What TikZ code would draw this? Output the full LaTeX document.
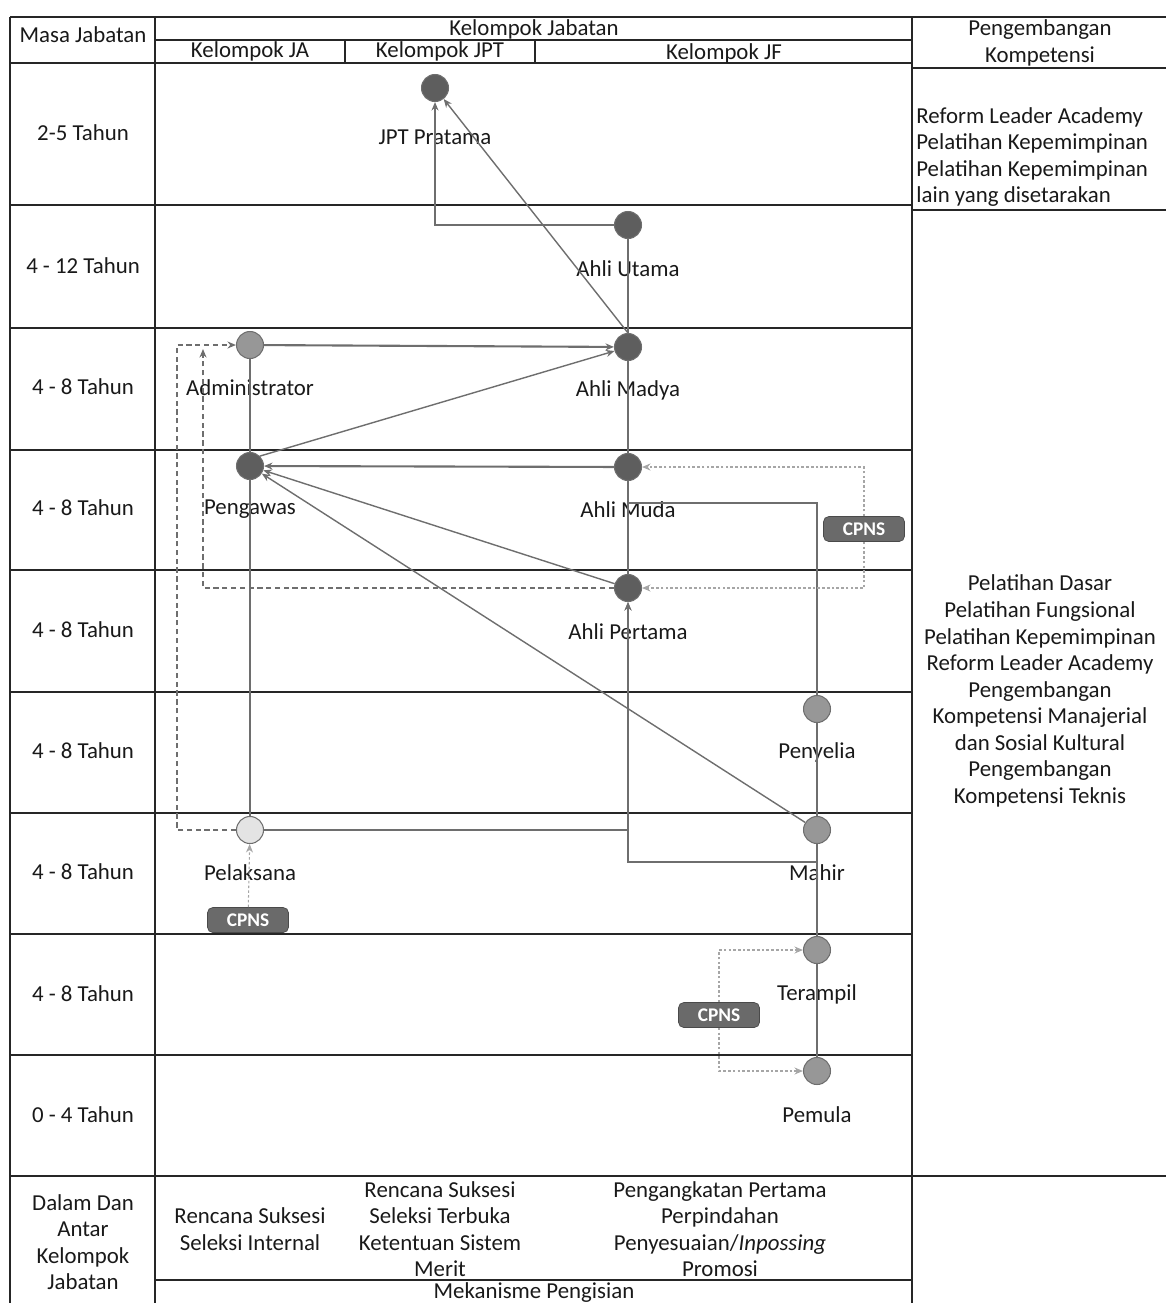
\documentclass[tikz,border=0pt]{standalone}
\usepackage{fontspec}
\setmainfont{Carlito}
\usetikzlibrary{arrows.meta, positioning, calc}
\usepackage{xcolor}
\definecolor{nodedark}{HTML}{5E5E5E}
\definecolor{nodemid}{HTML}{979797}
\definecolor{nodelight}{HTML}{E4E4E4}
\definecolor{linegray}{HTML}{6E6E6E}
\definecolor{cpnsgray}{HTML}{6A6A6A}

\begin{document}
\begin{tikzpicture}[
    x=0.02cm, y=-0.02cm,
    txt/.style={font=\fontsize{13}{15.1}\selectfont, align=center, text=black!90, inner sep=0pt},
    grid/.style={line width=1.1pt, black!85},
    posn/.style={circle, draw=linegray, line width=0.6pt, minimum size=0.54cm, inner sep=0pt},
    dark/.style={posn, fill=nodedark},
    mid/.style={posn, fill=nodemid},
    light/.style={posn, fill=nodelight},
    cpns/.style={draw=cpnsgray!70!black, fill=cpnsgray, rounded corners=3pt, minimum width=1.62cm, minimum height=0.5cm, text=white, font=\fontsize{11}{12}\selectfont\bfseries, inner sep=0pt},
    ln/.style={linegray, line width=0.8pt},
    arr/.style={ln, -{Stealth[length=1.7mm, width=1.4mm]}},
    dsh/.style={arr, dash pattern=on 3pt off 2pt},
    dot/.style={arr, gray!70, line width=0.6pt, dash pattern=on 1.5pt off 1.2pt},
]
\useasboundingbox (0,0) rectangle (1166,1303);

% Table frame
\draw[grid] (10,17) -- (1166,17);
\draw[grid] (10,17) -- (10,1303);
\draw[grid] (155,17) -- (155,1303);
\draw[grid] (912,17) -- (912,1303);
\draw[grid] (155,40) -- (912,40);
\draw[grid] (345,40) -- (345,63);
\draw[grid] (535,40) -- (535,63);
\draw[grid] (10,63) -- (912,63);
\draw[grid] (912,68) -- (1166,68);
\draw[grid] (912,210) -- (1166,210);
\foreach \y in {205,328,450,570,692,813,934,1055}
    \draw[grid] (10,\y) -- (912,\y);
\draw[grid] (10,1176) -- (1166,1176);
\draw[grid] (155,1280) -- (912,1280);

% Header
\node[txt] (masa) at (83,35) {Masa Jabatan};
\node[txt] (kel) at (534,29) {Kelompok Jabatan};
\node[txt] (kelja) at (250,51) {Kelompok JA};
\node[txt] (keljpt) at (440,51) {Kelompok JPT};
\node[txt] (keljf) at (724,53) {Kelompok JF};
\node[txt] (pengkomp) at (1040,43) {Pengembangan\\Kompetensi};

% Masa jabatan per row
\foreach \y/\t [count=\i] in {133/2-5 Tahun, 266/4 - 12 Tahun, 387/4 - 8 Tahun,
    508/4 - 8 Tahun, 630/4 - 8 Tahun, 751/4 - 8 Tahun, 872/4 - 8 Tahun,
    994/4 - 8 Tahun, 1115/0 - 4 Tahun}
    \node[txt] (masa\i) at (83,\y) {\t};

% Positions - JPT and JA
\node[dark] (jpt) at (435,88) {};
\node[mid] (adm) at (250,345) {};
\node[dark] (pgw) at (250,466) {};
\node[light] (plk) at (250,830) {};

% Positions - JF keahlian
\node[dark] (utm) at (628,225) {};
\node[dark] (mdy) at (628,347) {};
\node[dark] (mud) at (628,467) {};
\node[dark] (prt) at (628,588) {};

% Positions - JF keterampilan
\node[mid] (pny) at (817,709) {};
\node[mid] (mhr) at (817,830) {};
\node[mid] (trp) at (817,950) {};
\node[mid] (pml) at (817,1071) {};

% Labels
\node[txt] (jpt-l) at (435,137) {JPT Pratama};
\node[txt] (adm-l) at (250,388) {Administrator};
\node[txt] (pgw-l) at (250,509) {Pengawas};
\node[txt] (plk-l) at (250,873) {Pelaksana};
\node[txt] (utm-l) at (628,269) {Ahli Utama};
\node[txt] (mdy-l) at (628,390) {Ahli Madya};
\node[txt] (mud-l) at (628,510) {Ahli Muda};
\node[txt] (prt-l) at (628,632) {Ahli Pertama};
\node[txt] (pny-l) at (817,752) {Penyelia};
\node[txt] (mhr-l) at (817,873) {Mahir};
\node[txt] (trp-l) at (817,994) {Terampil};
\node[txt] (pml-l) at (817,1115) {Pemula};

% CPNS entry
\node[cpns] (cpA) at (248,920) {CPNS};
\node[cpns] (cpB) at (864,529) {CPNS};
\node[cpns] (cpC) at (719,1015) {CPNS};

% Joints
\coordinate (mhr-j) at (817,862);
\coordinate (pny-j) at (628,503);
\coordinate (adm-in) at (203,349);

% Career lines
\draw[arr] (utm.west) -| (jpt.south);
\draw[arr] (mdy.north) -- (jpt);
\draw[ln] (mdy) -- (utm);
\draw[ln] (mud) -- (mdy);
\draw[ln] (prt) -- (mud);
\draw[arr, line width=1.2pt] (adm) -- (mdy);
\draw[arr] (pgw.north east) -- (mdy);
\draw[arr, line width=1.2pt] (mud) -- (pgw);
\draw[arr] (prt) -- (pgw);
\draw[arr] (mhr) -- (pgw);
\draw[ln] (pgw) -- (adm);
\draw[ln] (plk) -- (pgw);
\draw[arr] (plk) -| (prt.south);
\draw[arr] (mhr-j) -| (prt.south);
\draw[ln] (pml) -- (trp);
\draw[ln] (trp) -- (mhr);
\draw[ln] (mhr) -- (pny);
\draw[ln] (pny) |- (pny-j);

% Dashed moves
\draw[dsh] (plk.west) -- ++(-59,0) |- (adm.west);
\draw[dsh] (prt.west) -| (adm-in);
\draw[dot] (cpA) -- (plk);
\draw[dot] (cpB.north) |- (mud.east);
\draw[dot] (cpB.south) |- (prt.east);
\draw[dot] (cpC.north) |- (trp.west);
\draw[dot] (cpC.south) |- (pml.west);

% Pengembangan kompetensi
\node[txt, anchor=west, align=left] (komp1) at (916,157) {Reform Leader Academy\\Pelatihan Kepemimpinan\\Pelatihan Kepemimpinan\\lain yang disetarakan};
\node[txt] (komp2) at (1040,691) {Pelatihan Dasar\\Pelatihan Fungsional\\Pelatihan Kepemimpinan\\Reform Leader Academy\\Pengembangan\\Kompetensi Manajerial\\dan Sosial Kultural\\Pengembangan\\Kompetensi Teknis};

% Mekanisme pengisian
\node[txt] (antar) at (83,1242) {Dalam Dan\\Antar\\Kelompok\\Jabatan};
\node[txt] (mekja) at (250,1229) {Rencana Suksesi\\Seleksi Internal};
\node[txt] (mekjpt) at (440,1229) {Rencana Suksesi\\Seleksi Terbuka\\Ketentuan Sistem\\Merit};
\node[txt] (mekjf) at (720,1229) {Pengangkatan Pertama\\Perpindahan\\Penyesuaian/\textit{Inpossing}\\Promosi};
\node[txt] (mek) at (534,1293) {Mekanisme Pengisian};

\end{tikzpicture}
\end{document}
